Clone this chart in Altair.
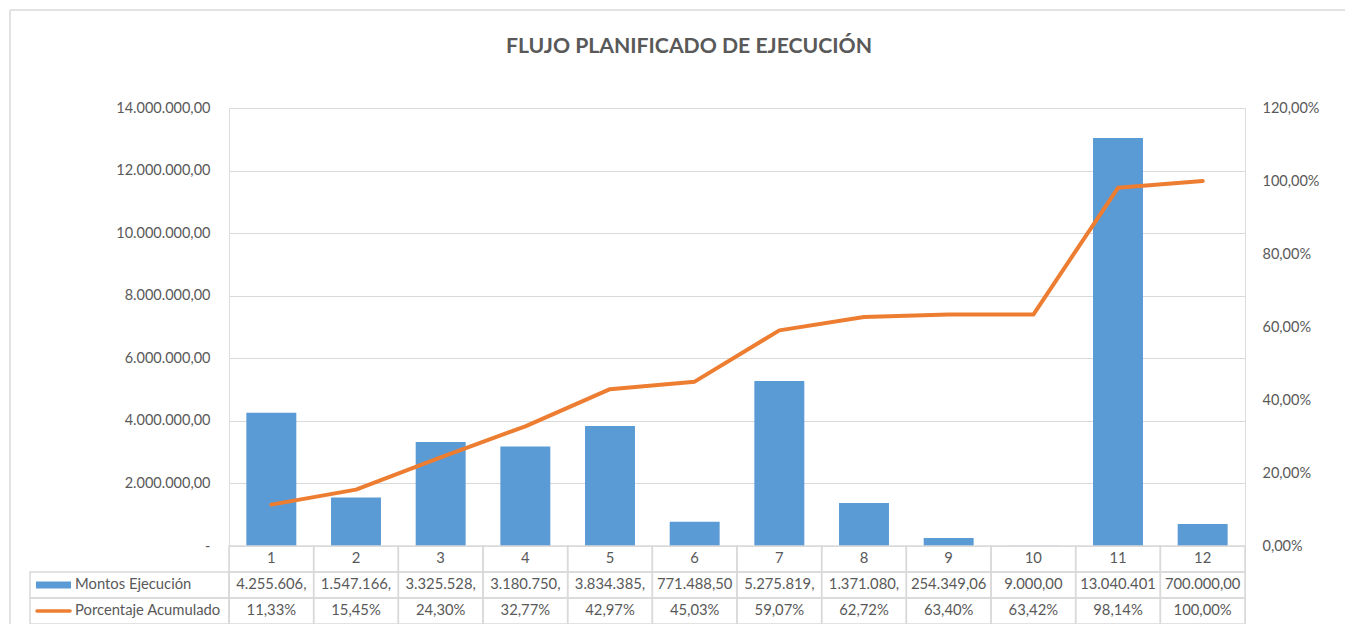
import altair as alt
import pandas as pd

# ---------------- data ----------------
categories = [1, 2, 3, 4, 5, 6, 7, 8, 9, 10, 11, 12]
montos = [4255606.0, 1547166.0, 3325528.0, 3180750.0, 3834385.0, 771488.50,
          5275819.0, 1371080.0, 254349.06, 9000.00, 13040401.0, 700000.00]
porcentaje = [0.1133, 0.1545, 0.2430, 0.3277, 0.4297, 0.4503,
              0.5907, 0.6272, 0.6340, 0.6342, 0.9814, 1.0000]
montos_text = ["4.255.606,", "1.547.166,", "3.325.528,", "3.180.750,", "3.834.385,", "771.488,50",
               "5.275.819,", "1.371.080,", "254.349,06", "9.000,00", "13.040.401", "700.000,00"]
pct_text = ["11,33%", "15,45%", "24,30%", "32,77%", "42,97%", "45,03%",
            "59,07%", "62,72%", "63,40%", "63,42%", "98,14%", "100,00%"]
series_names = ["Montos Ejecución", "Porcentaje Acumulado"]
left_ticks = [0, 2e6, 4e6, 6e6, 8e6, 10e6, 12e6, 14e6]
right_ticks = [0, 0.2, 0.4, 0.6, 0.8, 1.0, 1.2]
title_text = "FLUJO PLANIFICADO DE EJECUCIÓN"

# ---------------- styling ----------------
W, H, TH = 1016, 438, 78
TXT = "#595959"
GRID = "#d9d9d9"
BLUE = "#5b9bd5"
ORANGE = "#ed7d31"
FONT = "Lato"

df = pd.DataFrame({"cat": categories, "montos": montos, "pct": porcentaje})
one = pd.DataFrame({"a": [0]})

xscale = alt.Scale(type="band", domain=categories, paddingInner=0.41, paddingOuter=0.205)

bars = alt.Chart(df).mark_bar(color=BLUE).encode(
    x=alt.X("cat:O", scale=xscale, axis=None),
    y=alt.Y("montos:Q",
            scale=alt.Scale(domain=[0, 14e6], nice=False, zero=True),
            axis=alt.Axis(orient="left", values=left_ticks, format=",.2f",
                          labelExpr="datum.value === 0 ? '-' : datum.label",
                          grid=True, gridColor=GRID, gridWidth=1, domain=False, ticks=False,
                          labelPadding=19, labelFont=FONT, labelFontSize=14.5,
                          labelColor=TXT, title=None)),
)

line = alt.Chart(df).mark_line(color=ORANGE, strokeWidth=4, strokeJoin="round", strokeCap="round").encode(
    x=alt.X("cat:O", scale=xscale, axis=None),
    y=alt.Y("pct:Q",
            scale=alt.Scale(domain=[0, 1.2], nice=False, zero=True),
            axis=alt.Axis(orient="right", values=right_ticks, format=".2%",
                          grid=False, domain=False, ticks=False,
                          labelPadding=17, labelFont=FONT, labelFontSize=14.5,
                          labelColor=TXT, title=None)),
)

frame_top = alt.Chart(one).mark_rule(color=GRID, strokeWidth=1.5).encode(
    x=alt.value(-219), x2=alt.value(1116), y=alt.value(-98))
frame_left = alt.Chart(one).mark_rule(color=GRID, strokeWidth=1.5).encode(
    x=alt.value(-219), y=alt.value(-98), y2=alt.value(H))

title = alt.Chart(one).mark_text(text=title_text, font=FONT, fontSize=21.2, fontWeight="bold",
                                 color=TXT, align="center", baseline="alphabetic").encode(
    x=alt.value(460), y=alt.value(-55))

top = alt.layer(bars, line, frame_top, frame_left, title).resolve_scale(y="independent").properties(
    width=W, height=H)

# ---------------- data table ----------------
rows = ["cat", "montos", "pct"]
recs = []
for i, c in enumerate(categories):
    recs.append({"cat": c, "row": "cat", "text": str(c)})
    recs.append({"cat": c, "row": "montos", "text": montos_text[i]})
    recs.append({"cat": c, "row": "pct", "text": pct_text[i]})
tdf = pd.DataFrame(recs)

tx = alt.Scale(type="band", domain=categories, paddingInner=0, paddingOuter=0)
ty = alt.Scale(type="band", domain=rows, paddingInner=0, paddingOuter=0)

cells = alt.Chart(tdf).mark_rect(fill="transparent", stroke=GRID, strokeWidth=1.5).encode(
    x=alt.X("cat:O", scale=tx, axis=None),
    y=alt.Y("row:N", scale=ty, axis=None))

cell_text = alt.Chart(tdf).mark_text(font=FONT, fontSize=14.8, color=TXT, baseline="middle").encode(
    x=alt.X("cat:O", scale=tx, axis=None),
    y=alt.Y("row:N", scale=ty, axis=None),
    text="text:N")

ldf = pd.DataFrame({"row": ["montos", "pct"], "label": series_names})

legend_cells = alt.Chart(ldf).mark_rect(fill="transparent", stroke=GRID, strokeWidth=1.5).encode(
    x=alt.value(-199), x2=alt.value(0),
    y=alt.Y("row:N", scale=ty, axis=None))

legend_text = alt.Chart(ldf).mark_text(font=FONT, fontSize=14.8, color=TXT, align="left",
                                       baseline="middle").encode(
    x=alt.value(-154),
    y=alt.Y("row:N", scale=ty, axis=None),
    text="label:N")

swatch_bar = alt.Chart(ldf.iloc[:1]).mark_rule(color=BLUE, strokeWidth=7, strokeCap="butt").encode(
    x=alt.value(-193), x2=alt.value(-158),
    y=alt.Y("row:N", scale=ty, axis=None, bandPosition=0.5))

swatch_line = alt.Chart(ldf.iloc[1:]).mark_rule(color=ORANGE, strokeWidth=3.5, strokeCap="round").encode(
    x=alt.value(-192), x2=alt.value(-159),
    y=alt.Y("row:N", scale=ty, axis=None, bandPosition=0.5))

frame_left2 = alt.Chart(one).mark_rule(color=GRID, strokeWidth=1.5).encode(
    x=alt.value(-219), y=alt.value(0), y2=alt.value(TH))

table = alt.layer(cells, cell_text, legend_cells, legend_text, swatch_bar, swatch_line,
                  frame_left2).properties(width=W, height=TH)

chart = alt.vconcat(top, table, spacing=0, bounds="flush").properties(
    padding=0
).configure_view(stroke=None).configure(
    locale=alt.Locale(number=alt.NumberLocale(decimal=",", thousands=".", grouping=[3],
                                              currency=["", ""]))
)

chart.save("out.html", embed_options={"renderer": "svg", "actions": False})
